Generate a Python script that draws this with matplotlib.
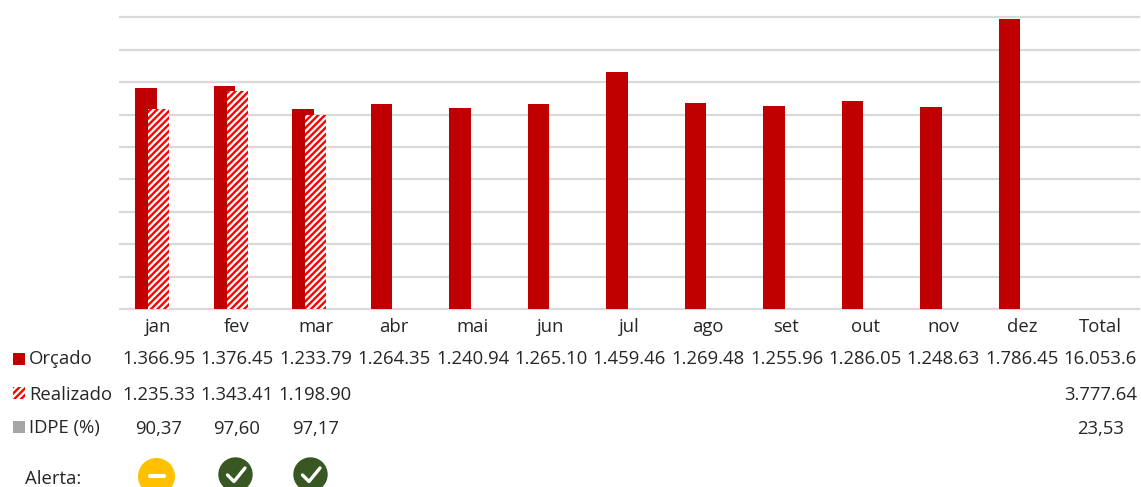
# -*- coding: utf-8 -*-
import numpy as np
import matplotlib
matplotlib.use('Agg')
import matplotlib.pyplot as plt
from matplotlib.patches import Rectangle, Circle

plt.rcParams['font.family'] = ['Open Sans', 'DejaVu Sans']
plt.rcParams['hatch.linewidth'] = 1.7

# data
meses = ['jan', 'fev', 'mar', 'abr', 'mai', 'jun', 'jul', 'ago', 'set', 'out', 'nov', 'dez', 'Total']
orcado = [1366.95, 1376.45, 1233.79, 1264.35, 1240.94, 1265.10, 1459.46, 1269.48, 1255.96, 1286.05, 1248.63, 1786.45]
realizado = [1235.33, 1343.41, 1198.90]
idpe = ['90,37', '97,60', '97,17']
orcado_txt = ['1.366.95', '1.376.45', '1.233.79', '1.264.35', '1.240.94', '1.265.10', '1.459.46',
              '1.269.48', '1.255.96', '1.286.05', '1.248.63', '1.786.45', '16.053.6']
realizado_txt = ['1.235.33', '1.343.41', '1.198.90']
total_realizado = '3.777.64'
total_idpe = '23,53'
alerta = ['amarelo', 'verde', 'verde']

W, H = 1141, 487
VERMELHO = '#C00000'
HACHURA = '#FF0000'
GRADE = '#D9D9D9'
CINZA = '#A5A5A5'
TEXTO = '#262626'
FS = 13.3

fig = plt.figure(figsize=(W / 100, H / 100), dpi=100)

# main chart, axes placed in pixels
left, right, top, bottom = 118.5, 1139, 17.25, 309.25
ax = fig.add_axes([left / W, 1 - bottom / H, (right - left) / W, (bottom - top) / H])
x = np.arange(len(meses))
ax.set_xlim(-0.5, 12.5)
ax.set_ylim(0, 1800)
ax.set_yticks(np.arange(0, 1801, 200))
ax.set_xticks([])
ax.tick_params(left=False, labelleft=False)
for s in ax.spines.values():
    s.set_visible(False)

larg = 0.272
ax.bar(x[:12] - 0.148, orcado, larg, color=VERMELHO, linewidth=0, zorder=2)
ax.bar(x[:3] + 0.012, realizado, larg, facecolor='white', edgecolor=HACHURA,
       hatch='/////', linewidth=0, zorder=3)
for y in ax.get_yticks():
    ax.plot([-0.475, 12.5], [y, y], color=GRADE, lw=1.6, zorder=1, clip_on=False)

# overlay in pixel coords for the table under the chart
ov = fig.add_axes([0, 0, 1, 1])
ov.set_xlim(0, W)
ov.set_ylim(H, 0)
ov.axis('off')

x0, passo = 158.5, 78.5
cols = [x0 + i * passo for i in range(13)]
y_mes, y_orc, y_real, y_idpe, y_alerta = 326.5, 359.5, 395, 428.5, 476


def cel(xc, yc, s, ha='center'):
    ov.text(xc, yc, s, ha=ha, va='center', fontsize=FS, color=TEXTO)


for c, m in zip(cols, meses):
    cel(c, y_mes, m)
for c, s in zip(cols, orcado_txt):
    cel(c, y_orc, s)
for c, s in zip(cols, realizado_txt):
    cel(c, y_real, s)
for c, s in zip(cols, idpe):
    cel(c, y_idpe, s)
cel(cols[12], y_real, total_realizado)
cel(cols[12], y_idpe, total_idpe)

# legend keys
ov.add_patch(Rectangle((13, 353), 12, 12, facecolor=VERMELHO, linewidth=0))
ov.add_patch(Rectangle((13, 387), 12, 12, facecolor='white', edgecolor=HACHURA, hatch='/////', linewidth=0))
ov.add_patch(Rectangle((13, 421), 12, 12, facecolor=CINZA, linewidth=0))
cel(29, y_orc, 'Orçado', ha='left')
cel(29, y_real, 'Realizado', ha='left')
cel(29, y_idpe, 'IDPE (%)', ha='left')
cel(25, y_alerta + 3, 'Alerta:', ha='left')

# alert icons
for c, a in zip(cols, alerta):
    if a == 'amarelo':
        xc = c - 2
        ov.add_patch(Circle((xc, y_alerta + 0.5), 18.5, facecolor='#FFC000', linewidth=0))
        ov.plot([xc - 7, xc + 7], [y_alerta, y_alerta], color='white', lw=3, solid_capstyle='round')
    else:
        xc = c - 1.5 if c < 300 else c - 5
        ov.add_patch(Circle((xc, 474.5), 17.2, facecolor='#385723', linewidth=0))
        ov.plot([xc - 8, xc - 1.5, xc + 9.5], [475, 481.5, 468], color='white', lw=2.4,
                solid_capstyle='round', solid_joinstyle='round')

fig.savefig('out.png', dpi=100)
